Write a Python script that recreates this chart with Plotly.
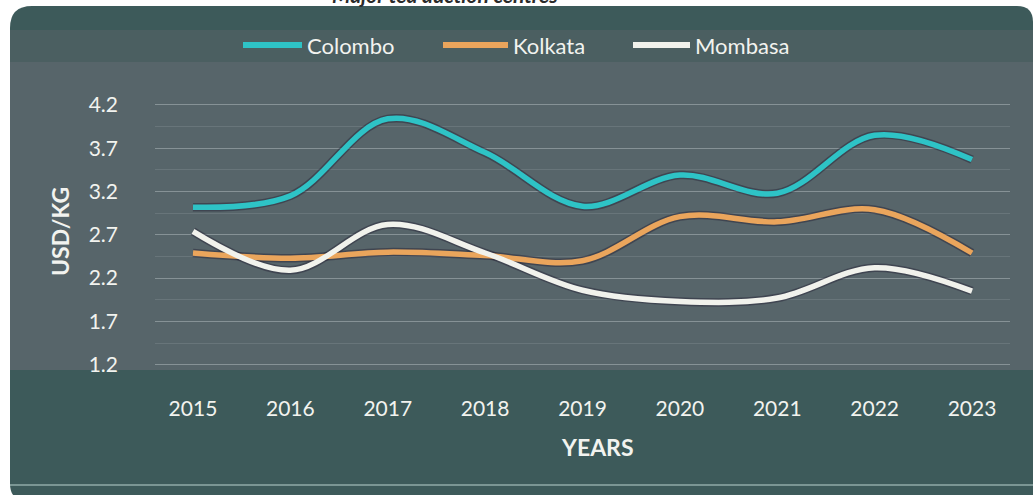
import plotly.graph_objects as go

# Tea auction prices (USD/KG) by year
years = [2015, 2016, 2017, 2018, 2019, 2020, 2021, 2022, 2023]
colombo = [3.02, 3.15, 4.04, 3.65, 3.03, 3.39, 3.18, 3.85, 3.57]
kolkata = [2.49, 2.43, 2.50, 2.46, 2.40, 2.91, 2.85, 2.99, 2.49]
mombasa = [2.74, 2.29, 2.82, 2.49, 2.06, 1.93, 1.97, 2.32, 2.05]
y_ticks = [1.2, 1.7, 2.2, 2.7, 3.2, 3.7, 4.2]
y_tick_text = ["1.2", "1.7", "2.2", "2.7", "3.2", "3.7", "4.2"]

series = [
    ("Colombo", colombo, "#2ec3c6"),
    ("Kolkata", kolkata, "#eaa55c"),
    ("Mombasa", mombasa, "#f1f2ec"),
]

W, H = 1035, 495
ML, MR, MT, MB = 155, 25, 92, 126
PW, PH = W - ML - MR, H - MT - MB


def px(x):
    return (x - ML) / PW


def py(y):
    return (H - MB - y) / PH


FONT = "Lato"
TEXT = "#f2f3ef"

fig = go.Figure()

# soft dark edge under each curve
for name, vals, color in series:
    fig.add_trace(go.Scatter(
        x=years, y=vals, mode="lines",
        line=dict(color="rgba(35,30,50,0.45)", width=8.5, shape="spline", smoothing=1.0),
        showlegend=False, hoverinfo="skip",
    ))

for name, vals, color in series:
    fig.add_trace(go.Scatter(
        x=years, y=vals, mode="lines", name=name, showlegend=False,
        line=dict(color=color, width=5.5, shape="spline", smoothing=1.0),
    ))

# rounded panel behind the chart
r1, r2 = 22, 16
x0, x1, y0, y1 = 10, 1033, 6, 500
panel = (
    f"M {px(x0 + r1)},{py(y0)} L {px(x1 - r2)},{py(y0)} "
    f"Q {px(x1)},{py(y0)} {px(x1)},{py(y0 + r2)} "
    f"L {px(x1)},{py(y1)} L {px(x0 + r2)},{py(y1)} "
    f"Q {px(x0)},{py(y1)} {px(x0)},{py(y1 - r2)} "
    f"L {px(x0)},{py(y0 + r1)} Q {px(x0)},{py(y0)} {px(x0 + r1)},{py(y0)} Z"
)
shapes = [
    dict(type="path", path=panel, xref="paper", yref="paper",
         fillcolor="#3d5a5a", line=dict(width=0), layer="below"),
    dict(type="rect", xref="paper", yref="paper",
         x0=px(x0), x1=px(x1), y0=py(62), y1=py(30),
         fillcolor="#4b5f61", line=dict(width=0), layer="below"),
    dict(type="rect", xref="paper", yref="paper",
         x0=px(x0), x1=px(x1), y0=py(370), y1=py(62),
         fillcolor="#57656a", line=dict(width=0), layer="below"),
    dict(type="line", xref="paper", yref="paper",
         x0=px(x0), x1=px(x1), y0=py(485), y1=py(485),
         line=dict(color="rgba(200,225,220,0.45)", width=2), layer="below"),
]

annotations = [
    dict(text="<b><i>Major tea auction centres</i></b>", xref="paper", yref="paper",
         x=px(445), y=py(9), xanchor="center", yanchor="bottom", showarrow=False,
         font=dict(family=FONT, size=21, color="#2b2b2b")),
    dict(text="<b>YEARS</b>", xref="paper", yref="paper",
         x=px(597), y=py(447), xanchor="center", yanchor="middle", showarrow=False,
         font=dict(family=FONT, size=23, color=TEXT)),
    dict(text="<b>USD/KG</b>", xref="paper", yref="paper", textangle=-90,
         x=px(60), y=py(232), xanchor="center", yanchor="middle", showarrow=False,
         font=dict(family=FONT, size=23, color=TEXT)),
]

# legend row across the top: key line followed by the series name
legend_y = 45
legend_keys = [(243, 302, 305), (443, 508, 511), (633, 690, 693)]
for (name, vals, color), (k0, k1, tx) in zip(series, legend_keys):
    shapes.append(dict(type="line", xref="paper", yref="paper",
                       x0=px(k0), x1=px(k1), y0=py(legend_y), y1=py(legend_y),
                       line=dict(color=color, width=6)))
    annotations.append(dict(text=name, xref="paper", yref="paper",
                            x=px(tx), y=py(legend_y), xanchor="left", yanchor="middle",
                            showarrow=False,
                            font=dict(family=FONT, size=22, color=TEXT)))

fig.update_layout(
    width=W, height=H,
    margin=dict(l=ML, r=MR, t=MT, b=MB),
    paper_bgcolor="white",
    plot_bgcolor="rgba(0,0,0,0)",
    shapes=shapes,
    annotations=annotations,
    showlegend=False,
    xaxis=dict(
        range=[2014.61, 2023.39], tickmode="array", tickvals=years,
        ticktext=[str(y) for y in years],
        showgrid=False, zeroline=False, showline=False,
        ticks="", ticklabelstandoff=25,
        tickfont=dict(family=FONT, size=21, color=TEXT),
    ),
    yaxis=dict(
        range=[1.15, 4.35], tickmode="array", tickvals=y_ticks, ticktext=y_tick_text,
        showgrid=True, gridcolor="rgba(225,235,235,0.25)", gridwidth=1,
        minor=dict(tick0=1.2, dtick=0.25, showgrid=True,
                   gridcolor="rgba(225,235,235,0.13)", gridwidth=1),
        zeroline=False, showline=False, ticks="", ticklabelstandoff=36,
        tickfont=dict(family=FONT, size=21, color=TEXT),
    ),
)

fig.write_html("out.html")
